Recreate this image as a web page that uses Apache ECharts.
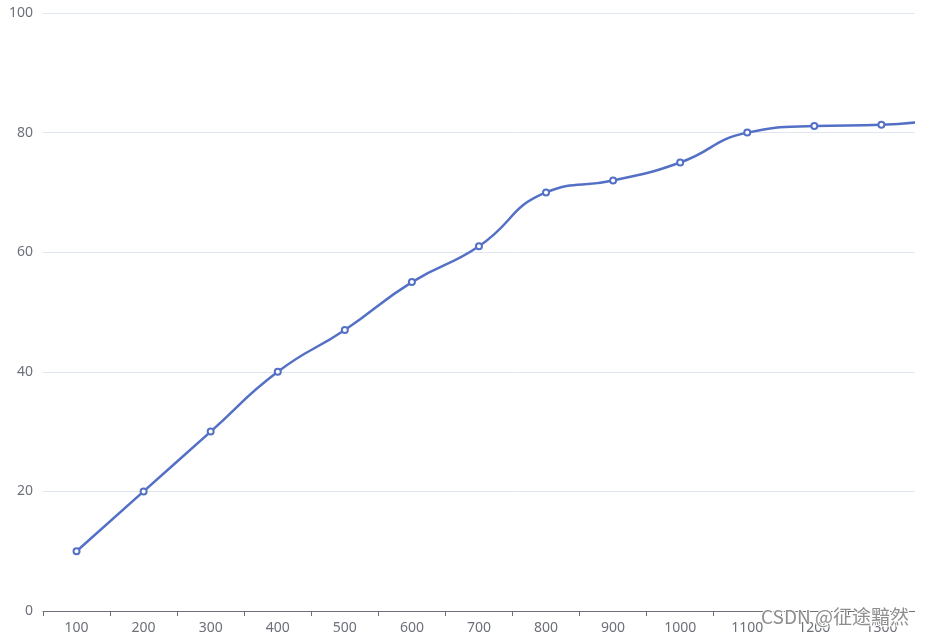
<!DOCTYPE html>
<html>
<head>
<meta charset="utf-8">
<script src="https://cdn.jsdelivr.net/npm/echarts@6/dist/echarts.min.js"></script>
<style>
html,body{margin:0;padding:0;background:#fff;}
#clip{width:915px;height:636px;overflow:hidden;position:relative;}
#main{width:1000px;height:636px;}
</style>
</head>
<body>
<div id="clip"><div id="main"></div></div>
<script>
const categories = ['100','200','300','400','500','600','700','800','900','1000','1100','1200','1300','1400'];
const values = [10, 20, 30, 40, 47, 55, 61, 70, 72, 75, 80, 81.1, 81.3, 82.5];
const watermark = 'CSDN @征途黯然';

const chart = echarts.init(document.getElementById('main'), null, {renderer: 'canvas'});
chart.setOption({
  animation: false,
  grid: {left: 43, right: 18, top: 13, bottom: 25, containLabel: false, outerBoundsMode: 'none'},
  xAxis: {
    type: 'category',
    data: categories,
    boundaryGap: true,
    axisLine: {show: true, lineStyle: {color: '#6e7079', width: 1}},
    axisTick: {show: true, length: 5, alignWithLabel: false, lineStyle: {color: '#6e7079'}},
    axisLabel: {fontSize: 14, color: '#6e7079', margin: 10, fontFamily: '"Noto Sans", sans-serif'},
    splitLine: {show: false}
  },
  yAxis: {
    type: 'value',
    min: 0,
    max: 100,
    interval: 20,
    axisLine: {show: false},
    axisTick: {show: false},
    axisLabel: {fontSize: 14, color: '#6e7079', margin: 10, fontFamily: '"Noto Sans", sans-serif'},
    splitLine: {show: true, lineStyle: {color: '#e0e6f1', width: 1}}
  },
  series: [{
    type: 'line',
    data: values,
    smooth: true,
    symbol: 'emptyCircle',
    symbolSize: 6,
    lineStyle: {width: 2.5, color: '#5470c6'},
    itemStyle: {color: '#5470c6', borderWidth: 2}
  }],
  graphic: [{
    type: 'text',
    left: 760,
    top: 606,
    z: 100,
    style: {
      text: watermark,
      font: '19px "Noto Sans CJK SC", sans-serif',
      fill: 'rgba(130,130,130,0.9)',
      stroke: '#fff',
      lineWidth: 2
    }
  }]
});
</script>
</body>
</html>
